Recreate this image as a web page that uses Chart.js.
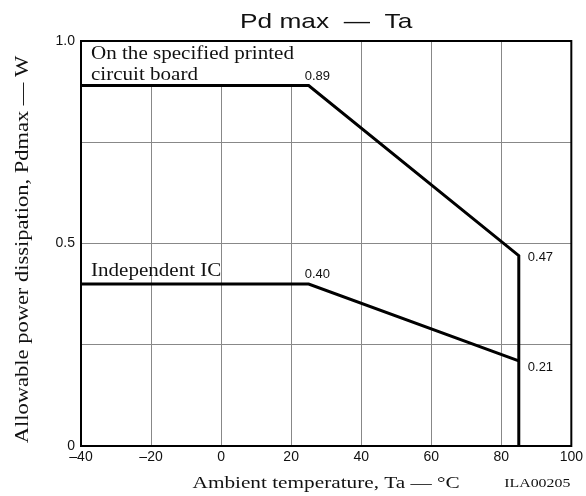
<!DOCTYPE html>
<html>
<head>
<meta charset="utf-8">
<script src="https://cdn.jsdelivr.net/npm/chart.js@4"></script>
<style>
  html, body { margin: 0; padding: 0; background: #fff; }
  #wrap { width: 586px; height: 496px; }
</style>
</head>
<body>
<div id="wrap"><canvas id="pdTa"></canvas></div>
<script>
// Pd max vs Ta derating curves
const pcbTemps = [-40, 25, 85, 85]
const pcbPower = [0.89, 0.89, 0.47, 0]
const icTemps = [-40, 25, 85]
const icPower = [0.40, 0.40, 0.21]
const xTicks = [-40, -20, 0, 20, 40, 60, 80, 100]
const yTickLabels = { 0: '0', 0.5: '0.5', 1: '1.0' }

const serif = '"Liberation Serif", "DejaVu Serif", serif'
const sans = '"Liberation Sans", Arial, sans-serif'

const toPoints = (xs, ys) => xs.map((x, i) => ({ x: x, y: ys[i] }))

// the source lettering is wide, so stretch it along the baseline
function wideText(ctx, text, x, y, font, align, sx, rot) {
  ctx.save()
  ctx.translate(x, y)
  if (rot) ctx.rotate(rot)
  ctx.scale(sx, 1)
  ctx.font = font
  ctx.textAlign = align
  ctx.fillText(text, 0, 0)
  ctx.restore()
}

const decor = {
  id: 'decor',
  beforeDatasetsDraw(chart) {
    const { ctx, scales: { x, y } } = chart
    // white box behind upper caption hides the grid
    ctx.save()
    ctx.fillStyle = '#fff'
    ctx.fillRect(x.getPixelForValue(-40) + 1, y.getPixelForValue(1) + 1,
      x.getPixelForValue(27) - x.getPixelForValue(-40), y.getPixelForValue(0.89) - y.getPixelForValue(1) - 2)
    ctx.restore()
  },
  afterDatasetsDraw(chart) {
    const { ctx, chartArea: a, scales: { x, y } } = chart
    ctx.save()
    ctx.strokeStyle = '#000'
    ctx.lineWidth = 2
    ctx.strokeRect(a.left, a.top, a.right - a.left, a.bottom - a.top)

    ctx.fillStyle = '#111'
    ctx.textBaseline = 'alphabetic'
    const capFont = '18px ' + serif
    wideText(ctx, 'On the specified printed', a.left + 10, y.getPixelForValue(0.89) - 27, capFont, 'left', 1.17)
    wideText(ctx, 'circuit board', a.left + 10, y.getPixelForValue(0.89) - 6, capFont, 'left', 1.17)
    wideText(ctx, 'Independent IC', a.left + 10, y.getPixelForValue(0.40) - 8, capFont, 'left', 1.17)

    ctx.font = '13px ' + sans
    ctx.textAlign = 'left'
    ctx.fillText('0.89', x.getPixelForValue(25) - 4, y.getPixelForValue(0.89) - 6)
    ctx.fillText('0.40', x.getPixelForValue(25) - 4, y.getPixelForValue(0.40) - 6)
    ctx.textBaseline = 'middle'
    ctx.fillText('0.47', x.getPixelForValue(85) + 9, y.getPixelForValue(0.47) + 2)
    ctx.fillText('0.21', x.getPixelForValue(85) + 9, y.getPixelForValue(0.21) + 6)
    ctx.textBaseline = 'alphabetic'

    // title
    wideText(ctx, 'Pd max  \u2014  Ta', (a.left + a.right) / 2, 28, '21px ' + sans, 'center', 1.25)

    // axis captions
    wideText(ctx, 'Ambient temperature, Ta \u2014 \u00b0C', (a.left + a.right) / 2, 488, '17px ' + serif, 'center', 1.25)
    wideText(ctx, 'ILA00205', a.right - 1, 487, '13px ' + serif, 'right', 1.22)
    wideText(ctx, 'Allowable power dissipation, Pdmax \u2014 W', 28, (a.top + a.bottom) / 2 + 6, '18px ' + serif, 'center', 1.25, -Math.PI / 2)
    ctx.restore()
  },
}

new Chart(document.getElementById('pdTa'), {
  type: 'scatter',
  data: {
    datasets: [
      {
        data: toPoints(pcbTemps, pcbPower),
        showLine: true,
        borderColor: '#000',
        borderWidth: 3,
        pointRadius: 0,
        borderJoinStyle: 'miter',
        tension: 0,
      },
      {
        data: toPoints(icTemps, icPower),
        showLine: true,
        borderColor: '#000',
        borderWidth: 3,
        pointRadius: 0,
        borderJoinStyle: 'miter',
        tension: 0,
      },
    ],
  },
  options: {
    responsive: true,
    maintainAspectRatio: false,
    animation: false,
    layout: { padding: { top: 41, right: 14, left: 0, bottom: 0 } },
    plugins: {
      legend: { display: false },
      tooltip: { enabled: false },
      title: { display: false },
    },
    scales: {
      x: {
        type: 'linear',
        min: -40,
        max: 100,
        afterBuildTicks: s => { s.ticks = xTicks.map(v => ({ value: v })) },
        afterFit: s => { s.height = 50 },
        ticks: {
          color: '#111',
          font: { family: sans, size: 14 },
          padding: 3,
          maxRotation: 0,
          callback: v => (v < 0 ? '\u2013' + Math.abs(v) : String(v)),
        },
        grid: { color: '#888', lineWidth: 1, drawTicks: false },
        border: { display: false },
      },
      y: {
        min: 0,
        max: 1,
        afterFit: s => { s.width = 81 },
        ticks: {
          stepSize: 0.25,
          color: '#111',
          font: { family: sans, size: 14 },
          padding: 6,
          callback: v => yTickLabels[v] || '',
        },
        grid: { color: '#888', lineWidth: 1, drawTicks: false },
        border: { display: false },
      },
    },
  },
  plugins: [decor],
})
</script>
</body>
</html>
